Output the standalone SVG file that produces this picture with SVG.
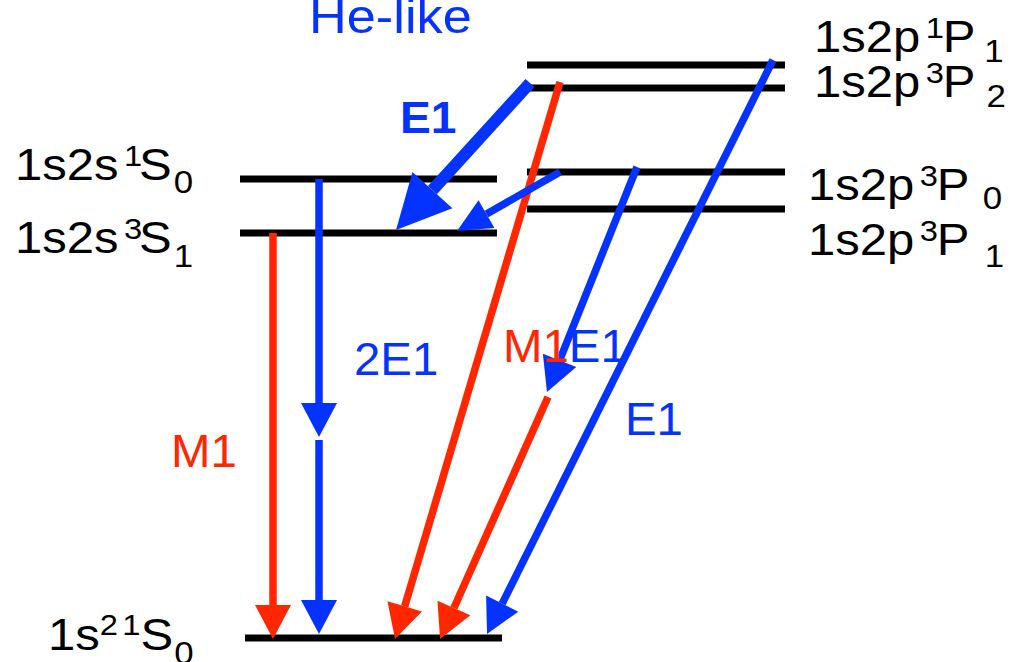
<svg xmlns="http://www.w3.org/2000/svg" width="1021" height="662" viewBox="0 0 1021 662">
<style>
.lvl{stroke:#000;stroke-width:7;fill:none}
.r{stroke:#FF2600;stroke-width:7.5;fill:none}
.b{stroke:#0433FF;stroke-width:7.5;fill:none}
.bt{stroke:#0433FF;stroke-width:12;fill:none}
text{font-family:"Liberation Sans",Arial,Helvetica,sans-serif;font-size:45px;fill:#000}
.bl{fill:#0433FF}
.rd{fill:#FF2600}
.bold{font-weight:bold;font-size:44px}
.big{font-size:48px}
.tr{font-size:46px}
.sup{font-size:30px}
.sub{font-size:32px}
</style>
<defs>
<marker id="hr" markerUnits="userSpaceOnUse" markerWidth="40" markerHeight="40" refX="0" refY="18" orient="auto" overflow="visible"><path d="M0,0 L34,18 L0,36 Z" fill="#FF2600"/></marker>
<marker id="hb" markerUnits="userSpaceOnUse" markerWidth="40" markerHeight="40" refX="0" refY="18" orient="auto" overflow="visible"><path d="M0,0 L34,18 L0,36 Z" fill="#0433FF"/></marker>
<marker id="hbs" markerUnits="userSpaceOnUse" markerWidth="40" markerHeight="40" refX="0" refY="16" orient="auto" overflow="visible"><path d="M0,0 L34,16 L0,32 Z" fill="#0433FF"/></marker>
<marker id="hbb" markerUnits="userSpaceOnUse" markerWidth="60" markerHeight="60" refX="0" refY="27" orient="auto" overflow="visible"><path d="M0,0 L54,27 L0,54 Z" fill="#0433FF"/></marker>
</defs>

<g id="levels">
<g id="lvl-1s2s-1S0"><line class="lvl" x1="240" y1="179" x2="497" y2="179"/>
<text transform="translate(15,180) scale(1.09,1)">1s2s<tspan class="sup" dx="5" dy="-14">1</tspan><tspan dx="-3" dy="14">S</tspan><tspan class="sub" dx="2" dy="13">0</tspan></text></g>
<g id="lvl-1s2s-3S1"><line class="lvl" x1="240" y1="233" x2="497" y2="233"/>
<text transform="translate(15,253) scale(1.09,1)">1s2s<tspan class="sup" dx="5" dy="-14">3</tspan><tspan dx="-3" dy="14">S</tspan><tspan class="sub" dx="2" dy="14">1</tspan></text></g>
<g id="lvl-1s2p-1P1"><line class="lvl" x1="527" y1="65" x2="785" y2="65"/>
<text transform="translate(814,52) scale(1.09,1)">1s2p<tspan class="sup" dx="5" dy="-14">1</tspan><tspan dx="-1" dy="14">P</tspan><tspan class="sub" dx="8" dy="10">1</tspan></text></g>
<g id="lvl-1s2p-3P2"><line class="lvl" x1="527" y1="88" x2="785" y2="88"/>
<text transform="translate(814,97) scale(1.09,1)">1s2p<tspan class="sup" dx="5" dy="-14">3</tspan><tspan dx="-1" dy="14">P</tspan><tspan class="sub" dx="10" dy="10">2</tspan></text></g>
<g id="lvl-1s2p-3P0"><line class="lvl" x1="527" y1="172" x2="785" y2="172"/>
<text transform="translate(808,200) scale(1.09,1)">1s2p<tspan class="sup" dx="5" dy="-14">3</tspan><tspan dx="-1" dy="14">P</tspan><tspan class="sub" dx="12" dy="9">0</tspan></text></g>
<g id="lvl-1s2p-3P1"><line class="lvl" x1="527" y1="209" x2="785" y2="209"/>
<text transform="translate(808,255) scale(1.09,1)">1s2p<tspan class="sup" dx="5" dy="-14">3</tspan><tspan dx="-1" dy="14">P</tspan><tspan class="sub" dx="14" dy="12">1</tspan></text></g>
<g id="lvl-1s2-1S0"><line class="lvl" x1="245" y1="638" x2="502" y2="638"/>
<text transform="translate(48,650) scale(1.09,1)">1s<tspan class="sup" dy="-15">2</tspan><tspan class="sup" dx="4">1</tspan><tspan dy="15">S</tspan><tspan class="sub" dx="1" dy="14">0</tspan></text></g>
</g>

<g id="connectors">
<line class="r" x1="273" y1="233" x2="273" y2="605" marker-end="url(#hr)"/>
<line class="b" x1="319" y1="179" x2="319" y2="403" marker-end="url(#hb)"/>
<line class="b" x1="319" y1="440" x2="319" y2="600" marker-end="url(#hb)"/>
<line class="r" x1="560" y1="82" x2="404.7" y2="606.4" marker-end="url(#hr)"/>
<line class="bt" x1="530" y1="83" x2="432.4" y2="190.1" marker-end="url(#hbb)"/>
<line class="b" x1="560" y1="172" x2="486.5" y2="214.1" marker-end="url(#hbs)"/>
<line class="b" x1="637" y1="167" x2="559.6" y2="360.4" marker-end="url(#hb)"/>
<line class="r" x1="548" y1="397" x2="453.9" y2="608" marker-end="url(#hr)"/>
<line class="b" x1="773" y1="60" x2="502.2" y2="603.6" marker-end="url(#hb)"/>
</g>

<g id="labels">
<text class="bl big" transform="translate(309,33) scale(1.09,1)">He-like</text>
<text class="bl bold" transform="translate(400,133) scale(1.05,1)">E1</text>
<text class="bl tr" transform="translate(354,375) scale(1.03,1)">2E1</text>
<text class="rd tr" transform="translate(171,467) scale(1.03,1)">M1</text>
<text class="tr" transform="translate(503,362) scale(1.03,1)"><tspan class="rd">M1</tspan><tspan class="bl">E1</tspan></text>
<text class="bl tr" transform="translate(625,435) scale(1.03,1)">E1</text>
</g>
</svg>
